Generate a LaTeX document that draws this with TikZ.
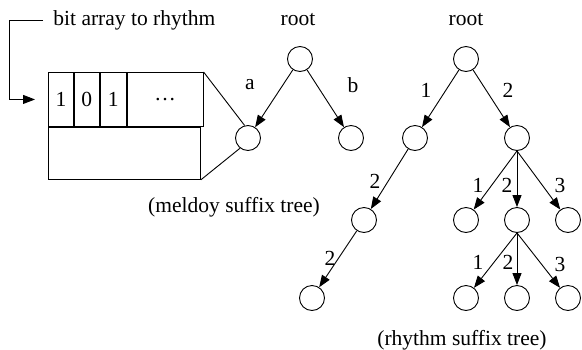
\documentclass[tikz,border=0pt]{standalone}
\usepackage{fontspec}
\setmainfont{Liberation Serif}
\usetikzlibrary{arrows.meta,positioning}

\begin{document}
\begin{tikzpicture}[
  x=1pt, y=-1pt,
  font=\fontsize{21.5}{26}\selectfont,
  line width=0.9pt,
  state/.style={draw, circle, minimum size=25pt, inner sep=0pt},
  cell/.style={draw, minimum height=54pt, inner sep=0pt, anchor=north west},
  edge/.style={-{Triangle[length=12pt,width=9pt]}},
  lbl/.style={inner sep=1pt}
]
\useasboundingbox (0,0) rectangle (582,349);

% bit array
\node[cell, minimum width=25pt] (b1) at (48,72) {1};
\node[cell, minimum width=25pt, right=0pt of b1] (b2) {0};
\node[cell, minimum width=26pt, right=0pt of b2] (b3) {1};
\node[cell, minimum width=76pt, right=0pt of b3] (b4) {\dots};
\node[draw, minimum width=152pt, minimum height=52pt, anchor=north west] (tail) at (b1.south west) {};
\node[anchor=west, inner sep=2pt] (bitlbl) at (51,20) {bit array to rhythm};
\draw[edge] ([xshift=-8pt]bitlbl.west) -- ++(-34,0) |- ([xshift=-13pt]b1.west);

% melody suffix tree
\node[state] (mroot) at (300,59) {};
\node[state] (ma) at (248,138) {};
\node[state] (mb) at (351,138) {};
\node (mrootlbl) at (298,20) {root};
\draw[edge] (mroot) -- (ma);
\draw[edge] (mroot) -- (mb);
\node[lbl] (la) at (250,85) {a};
\node[lbl] (lb) at (353,85) {b};
\draw (b4.north east) -- (ma.105);
\draw (tail.south east) -- (ma.232);
\node (mcap) at (234,207) {(meldoy suffix tree)};

% rhythm suffix tree
\node[state] (rroot) at (466,59) {};
\node (rrootlbl) at (466,20) {root};
\node[state] (r1) at (415,138) {};
\node[state] (r2) at (517,138) {};
\node[state] (r11) at (364,220) {};
\node[state] (r111) at (312,298) {};
\node[state] (r21) at (466,220) {};
\node[state] (r22) at (517,220) {};
\node[state] (r23) at (568,220) {};
\node[state] (r221) at (466,298) {};
\node[state] (r222) at (517,298) {};
\node[state] (r223) at (568,298) {};

\draw[edge] (rroot) -- (r1);
\draw[edge] (rroot) -- (r2);
\draw[edge] (r1) -- (r11);
\draw[edge] (r11) -- (r111);
\draw[edge] (r2.south) -- (r21);
\draw[edge] (r2.south) -- (r22.north);
\draw[edge] (r2.south) -- (r23);
\draw[edge] (r22.south) -- (r221);
\draw[edge] (r22.south) -- (r222.north);
\draw[edge] (r22.south) -- (r223);

\node[lbl] (l1) at (426,90) {1};
\node[lbl] (l2) at (508,90) {2};
\node[lbl] (l11) at (375,181) {2};
\node[lbl] (l111) at (330,258) {2};
\node[lbl] (l21) at (478,185) {1};
\node[lbl] (l22) at (507,185) {2};
\node[lbl] (l23) at (560,185) {3};
\node[lbl] (l221) at (478,262) {1};
\node[lbl] (l222) at (508,262) {2};
\node[lbl] (l223) at (560,264) {3};
\node (rcap) at (462,340) {(rhythm suffix tree)};
\end{tikzpicture}
\end{document}
